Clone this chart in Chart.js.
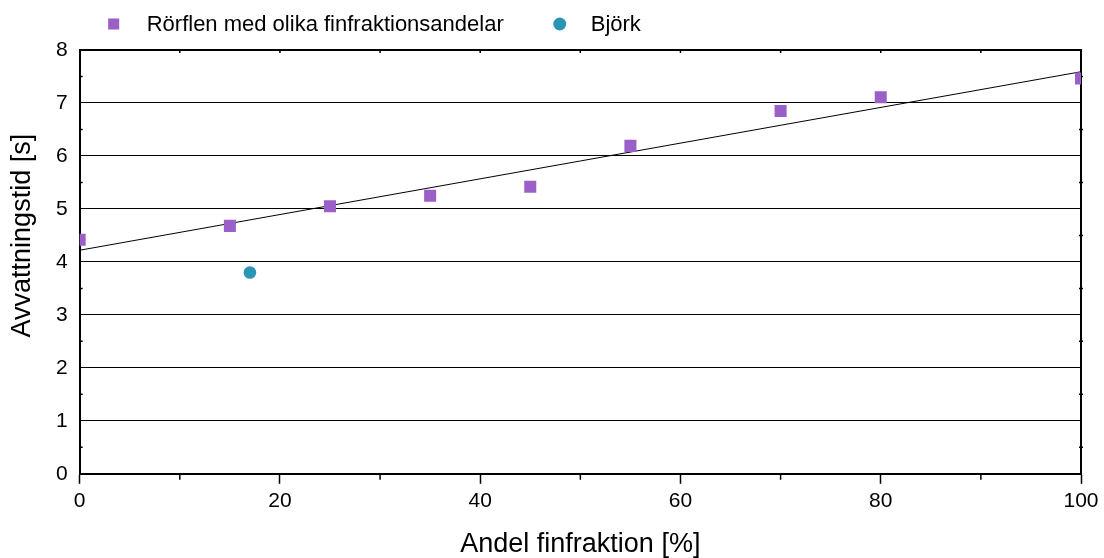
<!DOCTYPE html>
<html>
<head>
<meta charset="utf-8">
<script src="https://cdn.jsdelivr.net/npm/chart.js@4/dist/chart.umd.min.js"></script>
<style>
  body { margin: 0; background: #fff; }
  #wrap { width: 1104px; height: 558px; }
</style>
</head>
<body>
<div id="wrap"><canvas id="myChart"></canvas></div>
<script>
// Rörflen: andel finfraktion (%) and avvattningstid (s)
const andel = [0, 15, 25, 35, 45, 55, 70, 80, 100];
const avvattning = [4.42, 4.68, 5.05, 5.25, 5.42, 6.19, 6.85, 7.11, 7.46];

// Björk
const bjorkAndel = [17];
const bjorkTid = [3.8];

// trend line end points
const trendAndel = [0, 100];
const trendTid = [4.22, 7.59];

const yTicks = [0, 1, 2, 3, 4, 5, 6, 7, 8];

const purple = 'rgb(155, 95, 200)';
const teal = 'rgb(42, 150, 180)';
const FONT = "'Liberation Sans', Arial, sans-serif";

const toPoints = (xs, ys) => xs.map((x, i) => ({ x: x, y: ys[i] }));

const data = {
    datasets: [
        {
            label: 'Rörflen med olika finfraktionsandelar',
            data: toPoints(andel, avvattning),
            pointStyle: 'rect',
            pointRadius: 8.5,
            backgroundColor: purple,
            borderColor: purple,
            borderWidth: 0,
            order: 1,
        },
        {
            label: 'Björk',
            data: toPoints(bjorkAndel, bjorkTid),
            pointStyle: 'circle',
            pointRadius: 6.3,
            backgroundColor: teal,
            borderColor: teal,
            borderWidth: 0,
            order: 1,
        },
        {
            label: 'trend',
            data: toPoints(trendAndel, trendTid),
            showLine: true,
            pointRadius: 0,
            borderColor: '#000',
            borderWidth: 1,
            order: 2,
        },
    ]
};

// frame on top/right plus the small minor ticks
const frame = {
    id: 'frame',
    beforeDatasetsDraw(chart) {
        const { ctx, chartArea: a, scales } = chart;
        ctx.save();
        ctx.strokeStyle = '#000';
        ctx.lineWidth = 2;
        ctx.beginPath();
        ctx.moveTo(a.left, a.top);
        ctx.lineTo(a.right, a.top);
        ctx.lineTo(a.right, a.bottom);
        ctx.stroke();

        ctx.lineWidth = 1.5;
        ctx.beginPath();
        for (let v = 10; v < 100; v += 20) {
            const px = scales.x.getPixelForValue(v);
            ctx.moveTo(px, a.bottom);
            ctx.lineTo(px, a.bottom + 6);
        }
        for (let v = 10; v < 100; v += 10) {
            const px = scales.x.getPixelForValue(v);
            ctx.moveTo(px, a.top);
            ctx.lineTo(px, a.top + 3);
        }
        for (let v = 0.5; v < 8; v += 1) {
            const py = scales.y.getPixelForValue(v);
            ctx.moveTo(a.left, py);
            ctx.lineTo(a.left + 3, py);
            ctx.moveTo(a.right - 2, py);
            ctx.lineTo(a.right + 2, py);
        }
        ctx.stroke();
        ctx.restore();
    }
};

// legend drawn above the plot
const topLegend = {
    id: 'topLegend',
    afterDraw(chart) {
        const { ctx, chartArea: a } = chart;
        const sets = chart.data.datasets.slice(0, 2);
        const y = 24;
        ctx.save();
        ctx.font = '22px ' + FONT;
        ctx.fillStyle = '#000';
        ctx.textBaseline = 'middle';
        let x = a.left + 34;
        sets.forEach((ds, i) => {
            ctx.fillStyle = ds.backgroundColor;
            Chart.helpers.drawPoint(ctx, {
                pointStyle: ds.pointStyle,
                radius: ds.pointStyle === 'rect' ? 7.8 : 6.5,
                borderWidth: 0,
            }, x, y);
            ctx.fillStyle = '#000';
            const tx = x + (i === 0 ? 33 : 31);
            ctx.fillText(ds.label, tx, y + 1);
            x = tx + ctx.measureText(ds.label).width + 56;
        });
        ctx.restore();
    }
};

const config = {
    type: 'scatter',
    data: data,
    options: {
        responsive: true,
        maintainAspectRatio: false,
        animation: false,
        layout: { padding: { left: 0, right: 23, top: 50, bottom: 0 } },
        plugins: {
            legend: { display: false },
            tooltip: { enabled: false },
        },
        scales: {
            x: {
                type: 'linear',
                min: 0,
                max: 100,
                ticks: {
                    stepSize: 10,
                    color: '#000',
                    font: { family: FONT, size: 21 },
                    maxRotation: 0,
                    padding: 5,
                    callback: v => (v % 20 === 0 ? v : ''),
                },
                grid: {
                    drawOnChartArea: false,
                    tickColor: c => (c.tick && c.tick.value % 20 === 0 ? '#000' : 'rgba(0,0,0,0)'),
                    tickLength: 10,
                    tickWidth: 1.5,
                },
                border: { color: '#000', width: 2 },
                title: {
                    display: true,
                    text: 'Andel finfraktion [%]',
                    color: '#000',
                    font: { family: FONT, size: 27, lineHeight: 1 },
                    padding: { top: 12, bottom: 0 },
                },
            },
            y: {
                min: 0,
                max: 8,
                afterBuildTicks: axis => { axis.ticks = yTicks.map(v => ({ value: v })); },
                ticks: {
                    color: '#000',
                    font: { family: FONT, size: 21 },
                    padding: 12,
                },
                grid: {
                    color: '#000',
                    lineWidth: 1,
                    tickLength: 0,
                },
                border: { color: '#000', width: 2 },
                title: {
                    display: true,
                    text: '       Avvattningstid [s]',
                    color: '#000',
                    font: { family: FONT, size: 27, lineHeight: 1 },
                    padding: { top: 9, bottom: 8 },
                },
            },
        },
    },
    plugins: [frame, topLegend],
};

const myChart = new Chart(document.getElementById('myChart'), config);
</script>
</body>
</html>
